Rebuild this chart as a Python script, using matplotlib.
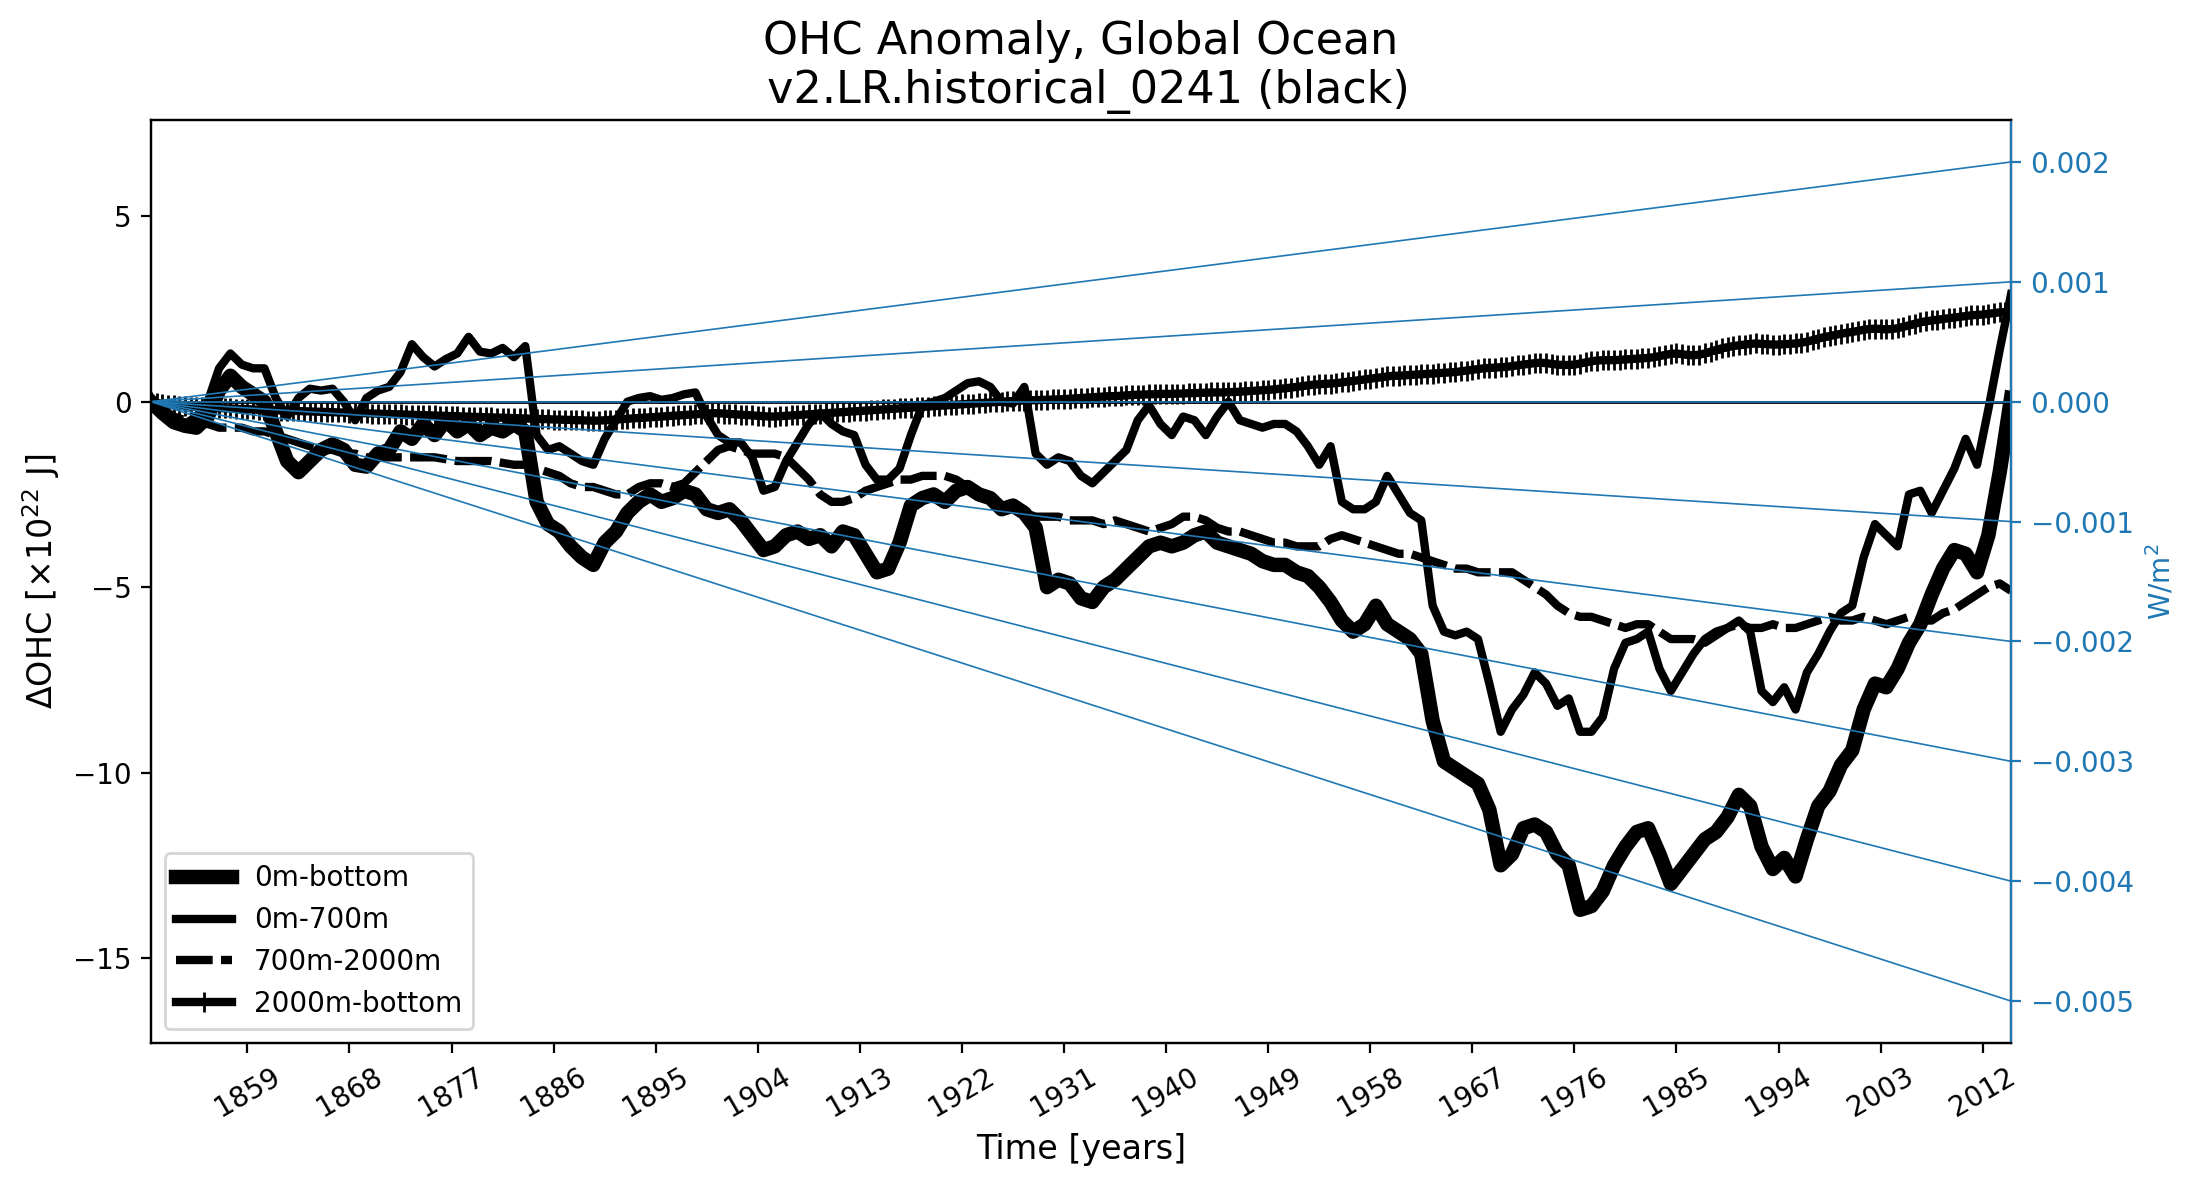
"""
OHC anomaly for the global ocean, with lines of constant heat flux (W/m^2).
"""

import numpy as np
import matplotlib
matplotlib.use("Agg")
import matplotlib.pyplot as plt

plt.rc('font', size=10)

#--------------------------------------------------------------
# data (units of 1e22 J)
#--------------------------------------------------------------
years = np.arange(1850.5, 2015.0, 1.0)        # annual values, 1850.5 .. 2014.5
years_deep = np.arange(1850.5, 2014.75, 0.5)  # half-year values for the deep layer

ohc_0_bot = [
    0.0, -0.3, -0.55, -0.65, -0.7, -0.4, 0.3, 0.7, 0.4, 0.2,
    0.0, -0.8, -1.6, -1.9, -1.6, -1.3, -1.15, -1.3, -1.7, -1.75,
    -1.4, -1.3, -0.8, -1.0, -0.6, -0.9, -0.5, -0.8, -0.6, -0.9,
    -0.7, -0.8, -0.6, -0.8, -2.7, -3.3, -3.5, -3.9, -4.2, -4.4,
    -3.8, -3.5, -3.0, -2.7, -2.5, -2.7, -2.6, -2.4, -2.5, -2.9,
    -3.0, -2.9, -3.2, -3.6, -4.0, -3.9, -3.6, -3.5, -3.7, -3.6,
    -3.9, -3.5, -3.6, -4.1, -4.6, -4.5, -3.8, -2.8, -2.6, -2.5,
    -2.7, -2.4, -2.3, -2.5, -2.6, -2.9, -2.8, -3.0, -3.4, -5.0,
    -4.8, -4.9, -5.3, -5.4, -5.0, -4.8, -4.5, -4.2, -3.9, -3.8,
    -3.9, -3.8, -3.6, -3.5, -3.8, -3.9, -4.0, -4.1, -4.3, -4.4,
    -4.4, -4.6, -4.7, -5.0, -5.4, -5.9, -6.2, -6.0, -5.5, -6.0,
    -6.2, -6.4, -6.8, -8.6, -9.7, -9.9, -10.1, -10.3, -11.0, -12.5,
    -12.2, -11.5, -11.4, -11.6, -12.2, -12.5, -13.7, -13.6, -13.2, -12.5,
    -12.0, -11.6, -11.5, -12.2, -13.0, -12.6, -12.2, -11.8, -11.6, -11.2,
    -10.6, -10.9, -12.0, -12.6, -12.3, -12.8, -11.8, -10.9, -10.5, -9.8,
    -9.4, -8.3, -7.6, -7.7, -7.2, -6.5, -6.0, -5.2, -4.5, -4.0,
    -4.1, -4.6, -3.6, -1.9, 0.1]

ohc_0_700 = [
    0.0, -0.3, -0.5, -0.6, -0.4, 0.0, 0.9, 1.3, 1.0, 0.9,
    0.9, 0.1, -0.4, 0.1, 0.35, 0.3, 0.35, 0.0, -0.5, 0.1,
    0.3, 0.4, 0.8, 1.55, 1.2, 0.95, 1.15, 1.3, 1.75, 1.35,
    1.3, 1.45, 1.2, 1.5, -0.9, -1.3, -1.2, -1.4, -1.6, -1.7,
    -1.0, -0.5, 0.0, 0.1, 0.15, 0.05, 0.1, 0.2, 0.25, -0.4,
    -0.9, -1.1, -1.1, -1.5, -2.4, -2.3, -1.6, -1.1, -0.6, -0.3,
    -0.6, -0.8, -0.9, -1.7, -2.1, -2.1, -1.8, -0.9, -0.1, 0.0,
    0.1, 0.3, 0.5, 0.55, 0.4, 0.0, -0.05, 0.4, -1.4, -1.7,
    -1.5, -1.6, -2.0, -2.2, -1.9, -1.6, -1.3, -0.5, -0.1, -0.6,
    -0.9, -0.4, -0.5, -0.9, -0.4, 0.0, -0.5, -0.6, -0.7, -0.6,
    -0.6, -0.8, -1.2, -1.7, -1.2, -2.7, -2.9, -2.9, -2.7, -2.0,
    -2.5, -3.0, -3.2, -5.5, -6.2, -6.3, -6.2, -6.4, -7.6, -8.9,
    -8.3, -7.9, -7.3, -7.6, -8.2, -8.0, -8.9, -8.9, -8.5, -7.2,
    -6.5, -6.4, -6.2, -7.2, -7.8, -7.3, -6.8, -6.4, -6.2, -6.1,
    -5.9, -6.2, -7.8, -8.1, -7.7, -8.3, -7.3, -6.8, -6.2, -5.7,
    -5.5, -4.2, -3.3, -3.6, -3.9, -2.5, -2.4, -3.0, -2.4, -1.8,
    -1.0, -1.7, -0.2, 1.4, 2.9]

ohc_700_2000 = [
    0.0, -0.2, -0.4, -0.5, -0.6, -0.6, -0.7, -0.7, -0.7, -0.8,
    -0.8, -0.9, -1.0, -1.1, -1.2, -1.3, -1.3, -1.4, -1.4, -1.5,
    -1.5, -1.5, -1.5, -1.5, -1.5, -1.5, -1.55, -1.6, -1.6, -1.6,
    -1.6, -1.65, -1.7, -1.7, -1.8, -1.9, -2.0, -2.2, -2.3, -2.3,
    -2.4, -2.5, -2.5, -2.3, -2.2, -2.2, -2.3, -2.2, -1.9, -1.6,
    -1.3, -1.2, -1.3, -1.4, -1.4, -1.4, -1.5, -1.8, -2.1, -2.5,
    -2.7, -2.7, -2.6, -2.4, -2.3, -2.2, -2.1, -2.1, -2.0, -2.0,
    -2.0, -2.1, -2.3, -2.5, -2.6, -2.8, -2.9, -3.0, -3.1, -3.1,
    -3.1, -3.2, -3.2, -3.2, -3.3, -3.2, -3.3, -3.4, -3.5, -3.4,
    -3.3, -3.1, -3.1, -3.2, -3.4, -3.5, -3.5, -3.6, -3.7, -3.8,
    -3.8, -3.9, -3.9, -3.9, -3.7, -3.6, -3.7, -3.8, -3.9, -4.0,
    -4.1, -4.1, -4.2, -4.3, -4.4, -4.5, -4.5, -4.6, -4.6, -4.6,
    -4.6, -4.8, -5.0, -5.2, -5.5, -5.7, -5.8, -5.8, -5.9, -6.0,
    -6.1, -6.0, -6.0, -6.2, -6.4, -6.4, -6.4, -6.5, -6.3, -6.1,
    -6.0, -6.1, -6.1, -6.0, -6.1, -6.1, -6.0, -5.9, -5.8, -5.9,
    -5.9, -5.8, -5.9, -6.0, -5.9, -5.8, -5.9, -5.9, -5.7, -5.6,
    -5.4, -5.2, -5.0, -4.9, -5.1]

ohc_2000_bot = [
    0.00, -0.03, -0.06, -0.08, -0.10, -0.11, -0.12, -0.13, -0.14, -0.15,
    -0.15, -0.16, -0.17, -0.18, -0.18, -0.19, -0.20, -0.20, -0.21, -0.22,
    -0.22, -0.23, -0.23, -0.24, -0.24, -0.25, -0.25, -0.26, -0.26, -0.27,
    -0.27, -0.28, -0.28, -0.29, -0.29, -0.30, -0.30, -0.31, -0.31, -0.32,
    -0.32, -0.33, -0.33, -0.34, -0.34, -0.35, -0.35, -0.36, -0.36, -0.37,
    -0.37, -0.38, -0.38, -0.39, -0.39, -0.40, -0.40, -0.41, -0.41, -0.42,
    -0.42, -0.43, -0.43, -0.44, -0.44, -0.45, -0.45, -0.46, -0.46, -0.47,
    -0.47, -0.48, -0.48, -0.49, -0.49, -0.50, -0.50, -0.51, -0.51, -0.51,
    -0.50, -0.49, -0.48, -0.47, -0.46, -0.45, -0.44, -0.43, -0.42, -0.41,
    -0.40, -0.39, -0.38, -0.37, -0.36, -0.35, -0.34, -0.33, -0.32, -0.31,
    -0.31, -0.32, -0.33, -0.34, -0.35, -0.36, -0.37, -0.38, -0.39, -0.40,
    -0.40, -0.39, -0.38, -0.37, -0.36, -0.35, -0.34, -0.33, -0.32, -0.31,
    -0.30, -0.29, -0.28, -0.27, -0.26, -0.25, -0.24, -0.23, -0.22, -0.21,
    -0.20, -0.19, -0.18, -0.17, -0.16, -0.15, -0.14, -0.13, -0.12, -0.11,
    -0.10, -0.09, -0.08, -0.07, -0.06, -0.05, -0.04, -0.03, -0.02, -0.01,
    0.00, 0.01, 0.02, 0.03, 0.03, 0.04, 0.04, 0.05, 0.05, 0.06,
    0.06, 0.07, 0.08, 0.09, 0.10, 0.11, 0.12, 0.13, 0.14, 0.15,
    0.15, 0.16, 0.17, 0.18, 0.19, 0.19, 0.20, 0.20, 0.21, 0.21,
    0.21, 0.22, 0.22, 0.23, 0.23, 0.24, 0.24, 0.25, 0.25, 0.25,
    0.26, 0.26, 0.27, 0.28, 0.29, 0.30, 0.31, 0.32, 0.33, 0.35,
    0.36, 0.38, 0.40, 0.42, 0.44, 0.46, 0.47, 0.48, 0.49, 0.50,
    0.52, 0.54, 0.56, 0.58, 0.60, 0.62, 0.64, 0.66, 0.68, 0.70,
    0.70, 0.71, 0.72, 0.73, 0.74, 0.75, 0.76, 0.77, 0.78, 0.79,
    0.80, 0.82, 0.84, 0.86, 0.88, 0.90, 0.91, 0.92, 0.93, 0.94,
    0.96, 0.98, 1.00, 1.02, 1.04, 1.05, 1.04, 1.02, 1.00, 0.99,
    0.99, 1.00, 1.03, 1.06, 1.09, 1.11, 1.12, 1.12, 1.12, 1.13,
    1.14, 1.15, 1.16, 1.17, 1.18, 1.20, 1.23, 1.26, 1.29, 1.30,
    1.28, 1.26, 1.25, 1.27, 1.30, 1.35, 1.40, 1.44, 1.47, 1.50,
    1.52, 1.54, 1.56, 1.57, 1.56, 1.55, 1.54, 1.54, 1.55, 1.56,
    1.57, 1.59, 1.62, 1.66, 1.70, 1.74, 1.77, 1.80, 1.83, 1.86,
    1.88, 1.91, 1.94, 1.96, 1.97, 1.96, 1.95, 1.96, 1.98, 2.02,
    2.06, 2.10, 2.14, 2.17, 2.19, 2.21, 2.23, 2.25, 2.27, 2.29,
    2.31, 2.33, 2.34, 2.35, 2.37, 2.39, 2.41, 2.42, 2.44]

# constant-flux reference lines (W/m^2) and conversion to the OHC axis
flux_lines = [0.002, 0.001, 0.0, -0.001, -0.002, -0.003, -0.004, -0.005]
wm2_per_ohc = 3.094e-4

#---------------------------
# figure
#---------------------------
fig = plt.figure(figsize=(10.975, 5.935), dpi=200)
ax1 = fig.add_subplot(111)
fig.subplots_adjust(left=0.0688, right=0.9162, bottom=0.1213, top=0.8989)

ax1.plot(years, ohc_0_bot, color='k', lw=5.2, label='0m-bottom')
ax1.plot(years, ohc_0_700, color='k', lw=3, label='0m-700m')
ax1.plot(years, ohc_700_2000, color='k', lw=3, ls=(0, (4.4, 1.0)),
         label='700m-2000m')
ax1.plot(years_deep, ohc_2000_bot, color='k', lw=3, marker='+', ms=7,
         mew=1.0, label='2000m-bottom')
ax1.axhline(0, color='k', lw=1.0)

# fan of constant heat-flux lines
for f in flux_lines:
    ax1.plot([years[0], years[-1]], [0.0, f / wm2_per_ohc],
             color='tab:blue', lw=0.6)

ax1.set_xlim(years[0], years[-1])
ax1.set_xticks(np.arange(1859, 2013, 9))
plt.setp(ax1.get_xticklabels(), rotation=30)

ax1.set_xlabel('Time [years]', fontsize=12)
ax1.set_ylabel('ΔOHC [×10$^{22}$ J]', fontsize=12)
ax1.set_title('OHC Anomaly, Global Ocean\n v2.LR.historical_0241 (black)',
              fontsize=16)
ax1.legend(loc='lower left')

#---------------------------
# right axis in W/m^2
#---------------------------
ax2 = ax1.twinx()
ax2.set_ylim(np.array(ax1.get_ylim()) * wm2_per_ohc)
ax2.tick_params(axis='y', colors='tab:blue')
ax2.spines['right'].set_color('tab:blue')
ax2.set_ylabel('W/m$^2$', color='tab:blue')

fig.savefig('out.png', dpi=200)
